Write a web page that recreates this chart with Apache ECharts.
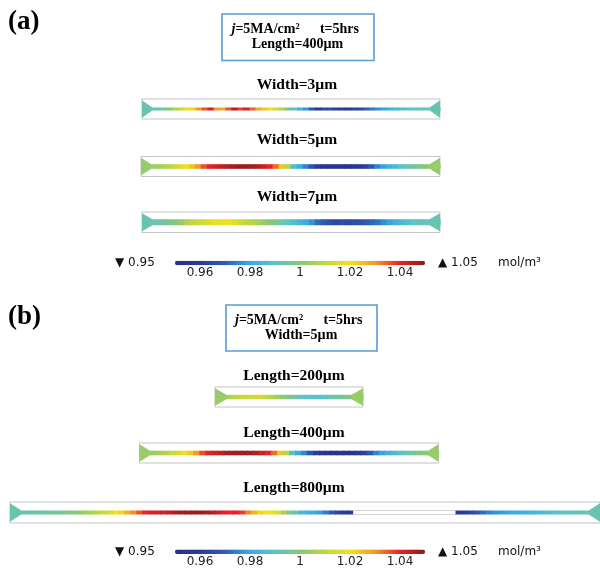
<!DOCTYPE html>
<html><head><meta charset="utf-8">
<script src="https://cdn.jsdelivr.net/npm/echarts@6/dist/echarts.min.js"></script>
<style>html,body{margin:0;padding:0;background:#fff}#c{width:600px;height:570px}</style>
</head><body><div id="c"></div>
<script>
// concentration (mol/m^3) sampled along each line, left to right
const W3 = [0.993,0.993,0.994,0.996,0.999,1.006,1.012,1.017,1.022,1.030,
            1.036,1.042,1.030,1.028,1.036,1.045,1.038,1.042,1.035,1.028,
            1.024,1.018,1.012,1.006,0.996,0.990,0.982,0.977,0.968,0.958,
            0.964,0.966,0.962,0.960,0.956,0.962,0.964,0.970,0.973,0.976,
            0.979,0.982,0.984,0.987,0.989,0.990,0.991,0.992,0.993,0.993];
const W5 = [1.003,1.003,1.004,1.006,1.008,1.012,1.015,1.019,1.024,1.030,
            1.036,1.040,1.042,1.044,1.046,1.047,1.048,1.048,1.047,1.046,
            1.043,1.040,1.034,1.024,1.008,0.988,0.980,0.975,0.968,0.960,
            0.956,0.954,0.953,0.953,0.954,0.955,0.958,0.962,0.968,0.975,
            0.979,0.983,0.986,0.989,0.992,0.995,0.998,1.000,1.002,1.003];
const W7 = [0.993,0.993,0.994,0.995,0.996,0.999,1.003,1.007,1.010,1.012,
            1.014,1.016,1.018,1.019,1.019,1.017,1.013,1.010,1.008,1.006,
            1.003,1.000,0.997,0.994,0.990,0.987,0.984,0.981,0.977,0.972,
            0.969,0.966,0.964,0.966,0.964,0.966,0.967,0.969,0.971,0.973,
            0.976,0.979,0.982,0.985,0.988,0.990,0.991,0.992,0.993,0.993];
const L200 = [1.003,1.004,1.007,1.009,1.011,1.012,1.013,1.013,1.011,1.008,
              1.005,1.002,0.998,0.995,0.992,0.990,0.989,0.989,0.990,0.992,
              0.994,0.996,0.998,1.001,1.003];
const L400 = W5.slice(); // same case: j=5MA/cm2, W=5um, L=400um
const L800 = [0.993,0.993,0.993,0.994,0.994,0.995,0.995,0.996,0.997,0.998,
              1.000,1.002,1.004,1.006,1.009,1.012,1.015,1.019,1.022,1.027,
              1.031,1.036,1.040,1.041,1.042,1.043,1.044,1.046,1.047,1.048,
              1.048,1.048,1.047,1.046,1.043,1.041,1.040,1.040,1.038,1.032,
              1.027,1.022,1.020,1.018,1.015,1.006,0.998,0.991,0.985,0.982,
              0.980,0.978,0.974,0.968,0.963,0.960,0.957,null,null,null,
              null,null,null,null,null,null,null,null,null,null,
              null,null,null,null,0.958,0.961,0.964,0.968,0.972,0.975,
              0.977,0.978,0.979,0.980,0.981,0.982,0.984,0.985,0.986,0.988,
              0.989,0.990,0.991,0.992,0.992,0.993,0.993,0.993];
const TICKS = [0.96, 0.98, 1, 1.02, 1.04];
const VMIN = 0.95, VMAX = 1.05;
const CMAP = ['#2b2f86','#2c3b97','#2e5cb3','#39ace4','#5cc3c6','#86c77a',
              '#bfd83e','#f4e11e','#f29a2a','#e42427','#8b1a1e'];

const STRIPS = [
  {data: W3,   left: 142,   top: 99,    width: 298, height: 20,   thick: 3,   pad: 10},
  {data: W5,   left: 141,   top: 156.5, width: 299, height: 20,   thick: 4.6, pad: 10},
  {data: W7,   left: 142,   top: 212,   width: 298, height: 20.5, thick: 6,   pad: 10},
  {data: L200, left: 215,   top: 387,   width: 148, height: 20,   thick: 4.4, pad: 11},
  {data: L400, left: 139.5, top: 443,   width: 299, height: 20,   thick: 4.6, pad: 10},
  {data: L800, left: 10,    top: 502,   width: 591, height: 21,   thick: 4,   pad: 11}
];
const BARS = [{top: 260.7}, {top: 549.5}];

const grids = [], xAxes = [], yAxes = [], series = [];
STRIPS.forEach(function (s, k) {
  grids.push({left: s.left, top: s.top, width: s.width, height: s.height,
    show: true, borderColor: '#c4c4c4', borderWidth: 1, backgroundColor: '#fff'});
  xAxes.push({type: 'category', gridIndex: k, show: false,
    data: s.data.map(function (_, i) { return i; })});
  yAxes.push({type: 'value', gridIndex: k, show: false, min: -1, max: 1});
  const thick = s.thick, padLen = s.pad;
  series.push({
    type: 'custom', xAxisIndex: k, yAxisIndex: k,
    encode: {x: 0},
    data: s.data.map(function (v, i) { return [i, v == null ? NaN : v]; }),
    renderItem: function (params, api) {
      const c = api.coord([api.value(0), 0]);
      const w = api.size([1, 0])[0];
      const v = api.value(1);
      const cy = c[1];
      if (isNaN(v)) {
        return {type: 'group', children: [
          {type: 'rect', shape: {x: c[0] - w / 2, y: cy - thick / 2, width: w + 0.6, height: thick},
           style: {fill: '#fff'}},
          {type: 'line', shape: {x1: c[0] - w / 2, y1: cy - thick / 2, x2: c[0] + w / 2 + 0.6, y2: cy - thick / 2},
           style: {stroke: '#c8c8c8', lineWidth: 0.8}},
          {type: 'line', shape: {x1: c[0] - w / 2, y1: cy + thick / 2, x2: c[0] + w / 2 + 0.6, y2: cy + thick / 2},
           style: {stroke: '#c8c8c8', lineWidth: 0.8}}
        ]};
      }
      return {type: 'rect',
        shape: {x: c[0] - w / 2, y: cy - thick / 2, width: w + 0.7, height: thick},
        style: {fill: api.visual('color')}};
    }
  });
  const n = s.data.length;
  series.push({
    type: 'custom', xAxisIndex: k, yAxisIndex: k, encode: {x: 0},
    data: [[0, s.data[0]], [n - 1, s.data[n - 1]]],
    renderItem: function (params, api) {
      const cs = params.coordSys;
      const cy = api.coord([api.value(0), 0])[1];
      const h = cs.height - 2.5;
      const left = params.dataIndex === 0;
      const edge = left ? cs.x : cs.x + cs.width;
      const tip = left ? edge + padLen : edge - padLen;
      return {type: 'polygon',
        shape: {points: [[edge, cy - h / 2], [tip, cy - thick / 2 - 0.3],
                         [tip, cy + thick / 2 + 0.3], [edge, cy + h / 2]]},
        style: {fill: api.visual('color')}};
    }
  });
});

// colour-bar tick axes
BARS.forEach(function (b, j) {
  const gi = grids.length;
  grids.push({left: 175, width: 250, top: b.top + 3, height: 1, show: false});
  xAxes.push({type: 'value', gridIndex: gi, min: VMIN, max: VMAX, interval: 0.01,
    axisLine: {show: false}, axisTick: {show: false}, splitLine: {show: false},
    axisLabel: {margin: 2, fontSize: 12, fontFamily: 'DejaVu Sans', color: '#222',
      showMinLabel: true, showMaxLabel: true,
      formatter: function (v) {
        return TICKS.some(function (t) { return Math.abs(t - v) < 1e-6; }) ? String(+v.toFixed(2)) : '';
      }}});
  yAxes.push({type: 'value', gridIndex: gi, show: false});
});

function vm(j, idx) {
  return {type: 'continuous', min: VMIN, max: VMAX, dimension: 1, seriesIndex: idx,
    orient: 'horizontal', left: 175, top: BARS[j].top, itemWidth: 4.5, itemHeight: 250,
    calculable: false, hoverLink: false, text: null, padding: 0, showLabel: false,
    inRange: {color: CMAP}};
}

const SERIF = '"Liberation Serif", "Times New Roman", serif';
function T(x, y, text, font, align, extra) {
  const st = Object.assign({text: text, font: font, fill: '#000',
    textAlign: align || 'center', align: align || 'center',
    textVerticalAlign: 'middle', verticalAlign: 'middle'}, extra || {});
  return {type: 'text', x: x, y: y, style: st, silent: true};
}
const B14 = 'bold 14px ' + SERIF;
const B15 = 'bold 15.5px ' + SERIF;
const rich = {i: {font: 'italic bold 14px ' + SERIF, fill: '#000'},
              n: {font: B14, fill: '#000'}};
const SANS = '12px "DejaVu Sans", sans-serif';

const graphic = [
  T(8, 22.5, '(a)', 'bold 27px ' + SERIF, 'left'),
  T(8, 317, '(b)', 'bold 27px ' + SERIF, 'left'),
  {type: 'rect', shape: {x: 222, y: 14, width: 152, height: 46.5},
   style: {fill: 'none', stroke: '#5b9bd5', lineWidth: 1.6}},
  T(231.5, 29, '{i|j}{n|=5MA/cm²}', B14, 'left', {rich: rich}),
  T(359, 29, 't=5hrs', B14, 'right'),
  T(297.5, 44.5, 'Length=400µm', B14),
  {type: 'rect', shape: {x: 226, y: 305, width: 151, height: 46},
   style: {fill: 'none', stroke: '#5b9bd5', lineWidth: 1.6}},
  T(235, 320, '{i|j}{n|=5MA/cm²}', B14, 'left', {rich: rich}),
  T(362.5, 320, 't=5hrs', B14, 'right'),
  T(301, 335.5, 'Width=5µm', B14),
  T(297, 84.5, 'Width=3µm', B15),
  T(297, 140, 'Width=5µm', B15),
  T(297, 196.5, 'Width=7µm', B15),
  T(294, 376, 'Length=200µm', B15),
  T(294, 433, 'Length=400µm', B15),
  T(294, 488, 'Length=800µm', B15)
];
BARS.forEach(function (b) {
  const y = b.top + 2.5;
  graphic.push(T(115, y, '▼ 0.95', SANS, 'left', {fill: '#111'}));
  graphic.push(T(438, y, '▲ 1.05', SANS, 'left', {fill: '#111'}));
  graphic.push(T(498, y, 'mol/m³', SANS, 'left', {fill: '#111'}));
});

const chart = echarts.init(document.getElementById('c'), null, {renderer: 'canvas'});
chart.setOption({
  animation: false,
  backgroundColor: '#fff',
  grid: grids, xAxis: xAxes, yAxis: yAxes, series: series,
  visualMap: [vm(0, [0, 1, 2, 3, 4, 5]), vm(1, [6, 7, 8, 9, 10, 11])],
  graphic: graphic
});
</script></body></html>
